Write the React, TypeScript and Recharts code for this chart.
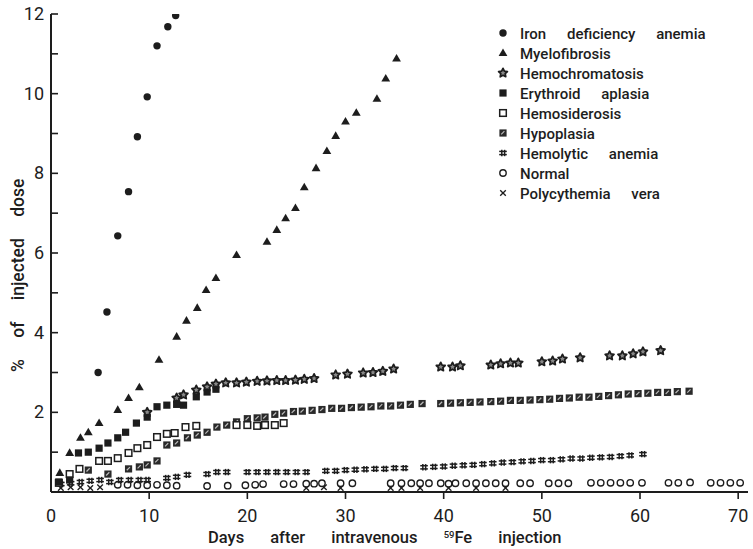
import { ScatterChart, Scatter, XAxis, YAxis, Legend } from 'recharts'

// [day after injection, % of injected dose]
type Pt = [number, number]

const ironDeficiency: Pt[] = [
  [4.8, 3.0], [5.7, 4.52], [6.8, 6.43], [7.9, 7.54], [8.8, 8.92],
  [9.8, 9.92], [10.8, 11.2], [11.9, 11.68], [12.7, 11.96],
]

const myelofibrosis: Pt[] = [
  [0.9, 0.48], [1.9, 0.98], [3.0, 1.36], [3.8, 1.5], [4.9, 1.73], [6.8, 2.06],
  [7.9, 2.36], [9.0, 2.63], [11.0, 3.32], [12.8, 3.9], [13.8, 4.3], [14.9, 4.62],
  [15.8, 5.07], [16.8, 5.37], [18.9, 5.95], [22.0, 6.28], [23.0, 6.58], [23.9, 6.87],
  [24.9, 7.13], [25.8, 7.65], [27.0, 8.13], [28.1, 8.56], [29.0, 8.94], [30.0, 9.3],
  [31.1, 9.52], [33.2, 9.87], [34.1, 10.38], [35.2, 10.88],
]

const hemochromatosis: Pt[] = [
  [9.8, 2.0], [12.8, 2.36], [13.5, 2.44], [14.8, 2.56], [15.9, 2.64], [16.8, 2.71],
  [17.8, 2.74], [18.9, 2.74], [19.9, 2.76], [21.0, 2.78], [22.0, 2.79], [23.0, 2.8],
  [23.9, 2.8], [24.9, 2.81], [25.8, 2.83], [26.8, 2.85], [29.0, 2.94], [30.2, 2.96],
  [31.8, 2.99], [32.8, 3.0], [33.8, 3.03], [34.9, 3.09], [39.7, 3.14], [40.9, 3.14],
  [41.7, 3.17], [44.8, 3.19], [45.8, 3.22], [46.8, 3.24], [47.6, 3.24], [50.0, 3.27],
  [51.1, 3.29], [52.1, 3.34], [53.9, 3.37], [56.9, 3.42], [58.2, 3.42], [59.3, 3.47],
  [60.3, 3.52], [62.1, 3.55],
]

const erythroidAplasia: Pt[] = [
  [0.8, 0.25], [1.9, 0.3], [2.8, 0.98], [3.8, 1.0], [4.9, 1.1], [5.8, 1.23],
  [6.8, 1.36], [7.6, 1.5], [8.7, 1.73], [9.8, 1.88], [10.8, 2.14], [11.8, 2.18],
  [12.8, 2.2], [13.5, 2.18], [14.8, 2.39], [15.9, 2.51], [16.8, 2.58],
]

const hemosiderosis: Pt[] = [
  [0.8, 0.23], [1.9, 0.45], [2.9, 0.58], [4.9, 0.78], [5.8, 0.78], [6.8, 0.85],
  [7.9, 0.98], [8.8, 1.1], [9.8, 1.18], [10.8, 1.38], [11.8, 1.46], [12.6, 1.48],
  [13.7, 1.63], [14.8, 1.66], [18.9, 1.68], [20.0, 1.68], [21.0, 1.66], [21.8, 1.68],
  [22.8, 1.68], [23.7, 1.73],
]

const hypoplasia: Pt[] = [
  [3.8, 0.55], [5.8, 0.45], [7.9, 0.58], [9.0, 0.63], [9.8, 0.68], [10.8, 0.78],
  [11.8, 1.18], [12.8, 1.23], [13.9, 1.36], [14.9, 1.43], [15.9, 1.5], [16.9, 1.63],
  [17.9, 1.68], [18.9, 1.76], [20.0, 1.84], [21.0, 1.86], [21.8, 1.88], [22.8, 1.95],
  [23.7, 1.98], [24.7, 2.02], [25.6, 2.03], [26.6, 2.05], [27.6, 2.07], [28.6, 2.1],
  [29.6, 2.1], [30.6, 2.12], [31.6, 2.13], [32.6, 2.14], [33.6, 2.16], [34.6, 2.16],
  [35.6, 2.18], [36.6, 2.2], [37.8, 2.22], [39.7, 2.22], [40.7, 2.23], [41.7, 2.24],
  [42.7, 2.25], [43.7, 2.26], [44.8, 2.27], [45.8, 2.28], [46.8, 2.3], [47.8, 2.3],
  [48.8, 2.31], [49.8, 2.32], [50.8, 2.33], [51.8, 2.35], [52.8, 2.36], [53.8, 2.38],
  [54.8, 2.38], [55.8, 2.4], [56.8, 2.42], [57.8, 2.44], [58.8, 2.46], [59.8, 2.47],
  [60.8, 2.48], [61.8, 2.5], [62.8, 2.5], [63.8, 2.52], [65.0, 2.53],
]

const hemolyticAnemia: Pt[] = [
  [1.0, 0.2], [2.0, 0.22], [3.0, 0.25], [4.0, 0.28], [5.0, 0.3], [6.0, 0.25],
  [7.0, 0.3], [8.0, 0.3], [9.0, 0.3], [9.8, 0.3], [11.8, 0.35], [12.8, 0.38],
  [13.9, 0.43], [15.9, 0.45], [16.9, 0.5], [17.9, 0.5], [20.0, 0.5], [21.0, 0.5],
  [22.0, 0.5], [23.0, 0.5], [24.0, 0.5], [25.0, 0.5], [26.0, 0.5], [28.0, 0.53],
  [29.0, 0.53], [30.0, 0.55], [31.0, 0.56], [32.0, 0.57], [33.0, 0.58], [34.0, 0.58],
  [35.0, 0.6], [36.0, 0.6], [38.0, 0.62], [39.0, 0.63], [40.0, 0.64], [41.0, 0.66],
  [42.0, 0.67], [43.0, 0.68], [44.0, 0.7], [45.0, 0.72], [46.0, 0.74], [47.0, 0.75],
  [48.0, 0.77], [49.0, 0.78], [50.0, 0.8], [51.0, 0.8], [52.0, 0.82], [53.0, 0.84],
  [54.0, 0.84], [55.0, 0.86], [56.0, 0.87], [57.0, 0.88], [58.0, 0.9], [59.0, 0.92],
  [60.3, 0.95],
]

const normal: Pt[] = [
  [6.8, 0.18], [7.8, 0.18], [8.8, 0.17], [9.8, 0.17], [10.8, 0.18], [11.8, 0.17],
  [12.8, 0.16], [15.9, 0.15], [18.0, 0.16], [19.8, 0.17], [20.8, 0.18], [21.6, 0.2],
  [23.7, 0.2], [24.7, 0.2], [26.0, 0.21], [26.8, 0.21], [27.6, 0.22], [29.5, 0.22],
  [30.7, 0.22], [34.6, 0.22], [35.7, 0.22], [36.7, 0.22], [37.6, 0.22], [38.5, 0.22],
  [39.7, 0.22], [40.5, 0.21], [41.2, 0.22], [42.3, 0.22], [43.3, 0.22], [44.3, 0.22],
  [45.3, 0.22], [46.3, 0.22], [47.8, 0.22], [48.8, 0.22], [50.7, 0.22], [51.7, 0.22],
  [52.7, 0.22], [55.0, 0.23], [56.0, 0.23], [57.0, 0.23], [58.0, 0.23], [59.0, 0.23],
  [60.2, 0.23], [62.9, 0.23], [63.9, 0.23], [65.1, 0.24], [67.2, 0.23], [68.2, 0.23],
  [69.2, 0.23], [70.2, 0.23],
]

const polycythemiaVera: Pt[] = [
  [1.0, 0.1], [2.0, 0.12], [3.0, 0.12], [4.0, 0.1], [5.0, 0.12], [26.0, 0.1],
  [27.8, 0.12], [29.5, 0.1], [34.6, 0.1], [35.7, 0.1], [37.6, 0.1], [40.5, 0.1],
  [43.3, 0.1], [46.3, 0.1],
]

const xTicks = [0, 10, 20, 30, 40, 50, 60, 70]
const yTicks = [1, 2, 3, 4, 5, 6, 7, 8, 9, 10, 11, 12]
const yLabelled = [2, 4, 6, 8, 10, 12]

const INK = '#1d1d1d'
const FONT = 'Roboto, "DejaVu Sans", sans-serif'

const rows = (pts: Pt[]) => pts.map(([day, pct]) => ({ day, pct }))

// marker glyphs, drawn centred on (cx, cy)
function starPath(cx: number, cy: number, ro: number, ri: number) {
  let d = ''
  for (let i = 0; i < 10; i++) {
    const r = i % 2 === 0 ? ro : ri
    const a = -Math.PI / 2 + (i * Math.PI) / 5
    d += `${i === 0 ? 'M' : 'L'}${cx + r * Math.cos(a)},${cy + r * Math.sin(a)}`
  }
  return d + 'Z'
}

const glyphs: Record<string, (cx: number, cy: number) => JSX.Element> = {
  dot: (cx, cy) => <circle cx={cx} cy={cy} r={3.7} fill={INK} />,
  triangle: (cx, cy) => (
    <path d={`M${cx},${cy - 4.6}L${cx + 4.4},${cy + 3}L${cx - 4.4},${cy + 3}Z`} fill={INK} />
  ),
  star: (cx, cy) => (
    <path d={starPath(cx, cy, 4.6, 2.3)} fill="#888" stroke={INK} strokeWidth={1.8} strokeLinejoin="round" />
  ),
  square: (cx, cy) => <rect x={cx - 3.6} y={cy - 3.6} width={7.2} height={7.2} fill={INK} />,
  openSquare: (cx, cy) => (
    <rect x={cx - 3.3} y={cy - 3.3} width={6.6} height={6.6} fill="#fff" stroke={INK} strokeWidth={1.5} />
  ),
  hatchSquare: (cx, cy) => (
    <g>
      <rect x={cx - 3.6} y={cy - 3.6} width={7.2} height={7.2} fill="#2a2a2a" />
      <path d={`M${cx - 1.8},${cy + 1.4}L${cx + 1.4},${cy - 1.8}`} stroke="#bbb" strokeWidth={1.2} />
    </g>
  ),
  hash: (cx, cy) => (
    <g stroke={INK} strokeWidth={1.5}>
      <line x1={cx - 3.8} x2={cx + 3.8} y1={cy - 1.6} y2={cy - 1.6} />
      <line x1={cx - 3.8} x2={cx + 3.8} y1={cy + 1.6} y2={cy + 1.6} />
      <line x1={cx - 1.2} x2={cx - 1.2} y1={cy - 3.2} y2={cy + 3.2} />
      <line x1={cx + 1.6} x2={cx + 1.6} y1={cy - 3.2} y2={cy + 3.2} />
    </g>
  ),
  ring: (cx, cy) => <circle cx={cx} cy={cy} r={3.2} fill="#fff" stroke={INK} strokeWidth={1.4} />,
  cross: (cx, cy) => (
    <g stroke={INK} strokeWidth={1.3}>
      <line x1={cx - 2.8} x2={cx + 2.8} y1={cy - 2.8} y2={cy + 2.8} />
      <line x1={cx - 2.8} x2={cx + 2.8} y1={cy + 2.8} y2={cy - 2.8} />
    </g>
  ),
}

const series = [
  { name: 'Iron deficiency anemia', data: ironDeficiency, glyph: 'dot' },
  { name: 'Myelofibrosis', data: myelofibrosis, glyph: 'triangle' },
  { name: 'Hemochromatosis', data: hemochromatosis, glyph: 'star' },
  { name: 'Erythroid aplasia', data: erythroidAplasia, glyph: 'square' },
  { name: 'Hemosiderosis', data: hemosiderosis, glyph: 'openSquare' },
  { name: 'Hypoplasia', data: hypoplasia, glyph: 'hatchSquare' },
  { name: 'Hemolytic anemia', data: hemolyticAnemia, glyph: 'hash' },
  { name: 'Normal', data: normal, glyph: 'ring' },
  { name: 'Polycythemia vera', data: polycythemiaVera, glyph: 'cross' },
]

// back-to-front so the low, crowded series don't hide the steep ones
const drawOrder = [...series].reverse()

function XTick({ x, y, payload }: any) {
  return (
    <g>
      {payload.value > 0 && <line x1={x} x2={x} y1={y} y2={y + 7} stroke={INK} strokeWidth={1.6} />}
      <text x={x} y={y + 30} textAnchor="middle" fontSize={18} fill={INK} fontFamily={FONT}>
        {payload.value}
      </text>
    </g>
  )
}

function YTick({ x, y, payload }: any) {
  return (
    <g>
      <line x1={x} x2={x + 7} y1={y} y2={y} stroke={INK} strokeWidth={1.6} />
      {yLabelled.includes(payload.value) && (
        <text x={x - 7} y={y + 6} textAnchor="end" fontSize={18} fill={INK} fontFamily={FONT}>
          {payload.value}
        </text>
      )}
    </g>
  )
}

function XTitle() {
  return (
    <text x={208} y={543} fontSize={16.5} fontWeight={500} fill={INK} fontFamily={FONT} wordSpacing={22}>
      Days after intravenous <tspan fontSize={9.5} dy={-5}>59</tspan>
      <tspan dy={5}>Fe injection</tspan>
    </text>
  )
}

function YTitle() {
  return (
    <text
      transform="rotate(-90)"
      x={-372}
      y={24}
      fontSize={17.5}
      fontWeight={500}
      fill={INK}
      fontFamily={FONT}
      wordSpacing={17}
    >
      % of injected dose
    </text>
  )
}

function SeriesKey() {
  return (
    <svg width={250} height={186}>
      {series.map((s, i) => {
        const cy = 13 + i * 20
        return (
          <g key={s.name}>
            {glyphs[s.glyph](13, cy)}
            <text x={30} y={cy + 5.5} fontSize={15} fontWeight={500} fill={INK} fontFamily={FONT} wordSpacing={17}>
              {s.name}
            </text>
          </g>
        )
      })}
    </svg>
  )
}

export default function App() {
  return (
    <div style={{ position: 'absolute', left: 0, top: 0, background: '#fff' }}>
      <ScatterChart width={753} height={549} margin={{ top: 14, right: 5, bottom: 0, left: 0 }}>
        <XAxis
          dataKey="day"
          type="number"
          domain={[0, 71]}
          ticks={xTicks}
          tickSize={0}
          tickMargin={0}
          tickLine={false}
          tick={<XTick />}
          axisLine={{ stroke: INK, strokeWidth: 2 }}
          height={57}
          allowDataOverflow
          label={{ content: () => <XTitle /> }}
        />
        <YAxis
          dataKey="pct"
          type="number"
          domain={[0, 12]}
          ticks={yTicks}
          tickSize={0}
          tickMargin={0}
          tickLine={false}
          tick={<YTick />}
          axisLine={{ stroke: INK, strokeWidth: 2 }}
          width={51}
          allowDataOverflow
          label={{ content: () => <YTitle /> }}
        />
        <Legend
          layout="vertical"
          align="center"
          verticalAlign="middle"
          wrapperStyle={{ left: 490, top: 20, width: 250 }}
          content={() => <SeriesKey />}
        />
        {drawOrder.map((s) => (
          <Scatter
            key={s.name}
            name={s.name}
            data={rows(s.data)}
            isAnimationActive={false}
            shape={(p: any) => glyphs[s.glyph](p.cx, p.cy)}
          />
        ))}
      </ScatterChart>
    </div>
  )
}
